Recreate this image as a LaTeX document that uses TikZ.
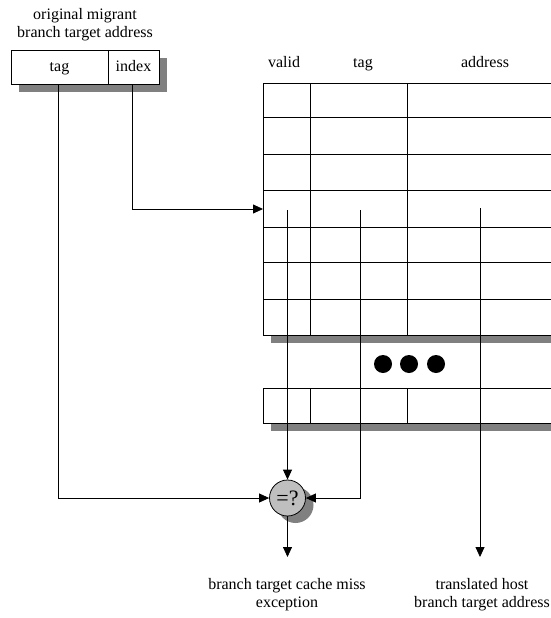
\documentclass[tikz,border=0pt]{standalone}
\usepackage{fontspec}
\setmainfont{Liberation Serif}
\usetikzlibrary{arrows.meta}
\begin{document}
\begin{tikzpicture}[x=1pt,y=-1pt,
  txt/.style={font=\fontsize{16}{18}\selectfont, inner sep=0pt, align=center},
  ln/.style={line width=0.8pt, draw=black},
  arr/.style={ln, -{Triangle[length=10pt,width=9pt]}},
  shade/.style={fill=black!50, draw=none},
  field/.style={draw=black, line width=0.8pt, fill=white, inner sep=0pt, font=\fontsize{16}{18}\selectfont, minimum height=34pt, text height=11pt, text depth=3pt},
  dot/.style={circle, fill=black, minimum size=18pt, inner sep=0pt}]
\useasboundingbox (0,0) rectangle (551,618);
\clip (0,0) rectangle (551,618);

% title
\node[txt] (title) at (85,25) {original migrant\\branch target address};

% address register with shadow
\fill[shade] (19,58) rectangle (167,92);
\node[field, minimum width=97pt] (tagf) at (59.5,67) {tag};
\node[field, minimum width=51pt] (idxf) at (133.5,67) {index};

% column headers
\node[txt, anchor=base] (hvalid) at (284,67) {valid};
\node[txt, anchor=base] (htag) at (363,67) {tag};
\node[txt, anchor=base] (haddr) at (485,67) {address};

% table upper block
\fill[shade] (271,91) rectangle (580,343);
\filldraw[ln, fill=white] (263,83) rectangle (580,335);
\foreach \y in {117,154,190,227,262,299} \draw[ln] (263,\y) -- (580,\y);
\foreach \x in {310,407} \draw[ln] (\x,83) -- (\x,335);

% table lower block
\fill[shade] (271,396) rectangle (580,431);
\filldraw[ln, fill=white] (263,388) rectangle (580,423);
\foreach \x in {310,407} \draw[ln] (\x,388) -- (\x,423);

% dots
\node[dot] (d1) at (383,364) {};
\node[dot] (d2) at (409,364) {};
\node[dot] (d3) at (436,364) {};

% comparator
\fill[shade] (295.5,505) circle (18);
\node[circle, draw=black, line width=0.8pt, fill=black!25, minimum size=36pt, inner sep=0pt,
      font=\fontsize{22}{22}\selectfont] (cmp) at (287.5,498) {=?};

% coordinates
\coordinate (rowin) at (263,209);
\coordinate (vstart) at (287.5,210);
\coordinate (tstart) at (360,210);
\coordinate (astart) at (480,208);
\coordinate (missout) at (287.5,557);
\coordinate (hostout) at (480,557);

% connectors
\draw[arr] ([xshift=-1.5pt]tagf.south) |- (cmp.west);
\draw[arr] ([xshift=-1.5pt]idxf.south) |- (rowin);
\draw[arr] (vstart) -- (cmp.north);
\draw[arr] (tstart) |- (cmp.east);
\draw[arr] (cmp.south) -- (missout);
\draw[arr] (astart) -- (hostout);

% bottom labels
\node[txt] (miss) at (287,595) {branch target cache miss\\exception};
\node[txt] (host) at (482,595) {translated host\\branch target address};
\end{tikzpicture}
\end{document}
